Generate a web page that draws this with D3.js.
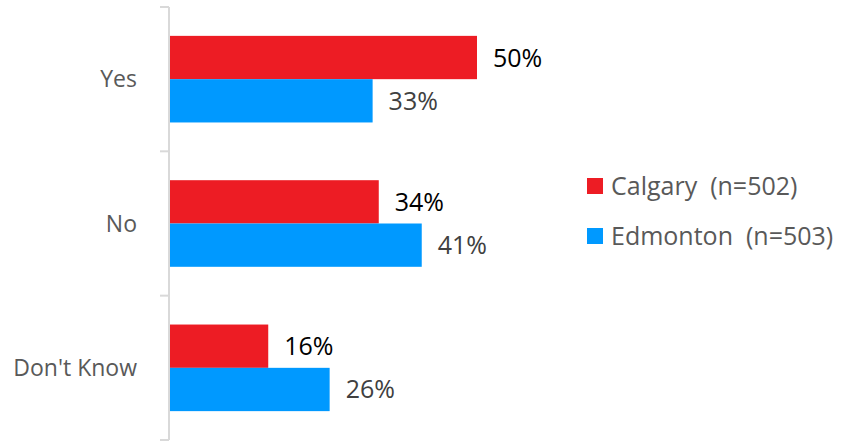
<!DOCTYPE html>
<html>
<head>
<meta charset="utf-8">
<script src="https://cdn.jsdelivr.net/npm/d3@7"></script>
<style>
  body { margin: 0; background: #fff; }
  svg { display: block; font-family: 'Open Sans', sans-serif; }
</style>
</head>
<body>
<div id="chart"></div>
<script>
const categories = ['Yes', 'No', "Don't Know"]
const seriesNames = ['Calgary  (n=502)', 'Edmonton  (n=503)']
const calgary = [50, 34, 16]
const edmonton = [33, 41, 26]
const colors = ['#ED1C24', '#0099FF']
const labelColors = ['#000000', '#404040']

const width = 843
const height = 441

const svg = d3.select('#chart')
    .append('svg')
    .attr('width', width)
    .attr('height', height)

const y = d3.scaleBand()
    .domain(categories)
    .range([7, 440])
    .paddingInner(0.4)
    .paddingOuter(0.2)

const ySub = d3.scaleBand()
    .domain([0, 1])
    .range([0, y.bandwidth()])

const x = d3.scaleLinear()
    .domain([0, 100])
    .range([170, 784])

const series = [calgary, edmonton]

series.forEach((vals, s) => {
    const g = svg.append('g')
    g.selectAll('rect')
        .data(vals)
        .join('rect')
        .attr('x', x(0))
        .attr('y', (d, i) => y(categories[i]) + ySub(s))
        .attr('width', d => x(d) - x(0))
        .attr('height', ySub.bandwidth())
        .attr('fill', colors[s])

    g.selectAll('text')
        .data(vals)
        .join('text')
        .attr('x', d => x(d) + 16)
        .attr('y', (d, i) => y(categories[i]) + ySub(s) + ySub.bandwidth() / 2)
        .attr('dy', '0.36em')
        .style('fill', labelColors[s])
        .style('font-size', '25px')
        .text(d => d + '%')
})

// axis line with category separator ticks
const step = y.step()
const tickYs = d3.range(categories.length + 1).map(i => 7 + i * step)
svg.append('line')
    .attr('x1', 169).attr('x2', 169)
    .attr('y1', tickYs[0]).attr('y2', tickYs[tickYs.length - 1])
    .attr('stroke', '#d9d9d9')
    .attr('stroke-width', 2)
svg.selectAll('.sep')
    .data(tickYs)
    .join('line')
    .attr('class', 'sep')
    .attr('x1', 160).attr('x2', 169)
    .attr('y1', d => d).attr('y2', d => d)
    .attr('stroke', '#d9d9d9')
    .attr('stroke-width', 2)

svg.selectAll('.cat')
    .data(categories)
    .join('text')
    .attr('class', 'cat')
    .attr('x', 137)
    .attr('y', d => y(d) + y.bandwidth() / 2)
    .attr('dy', '0.36em')
    .attr('text-anchor', 'end')
    .style('fill', '#595959')
    .style('font-size', '23px')
    .text(d => d)

const legend = svg.append('g')
seriesNames.forEach((name, i) => {
    legend.append('rect')
        .attr('x', 587)
        .attr('y', 178 + i * 50)
        .attr('width', 16)
        .attr('height', 16)
        .attr('fill', colors[i])
    legend.append('text')
        .attr('x', 611)
        .attr('y', 186 + i * 50)
        .attr('dy', '0.36em')
        .style('fill', '#595959')
        .style('font-size', '25px')
        .attr('xml:space', 'preserve')
        .text(name)
})
</script>
</body>
</html>
